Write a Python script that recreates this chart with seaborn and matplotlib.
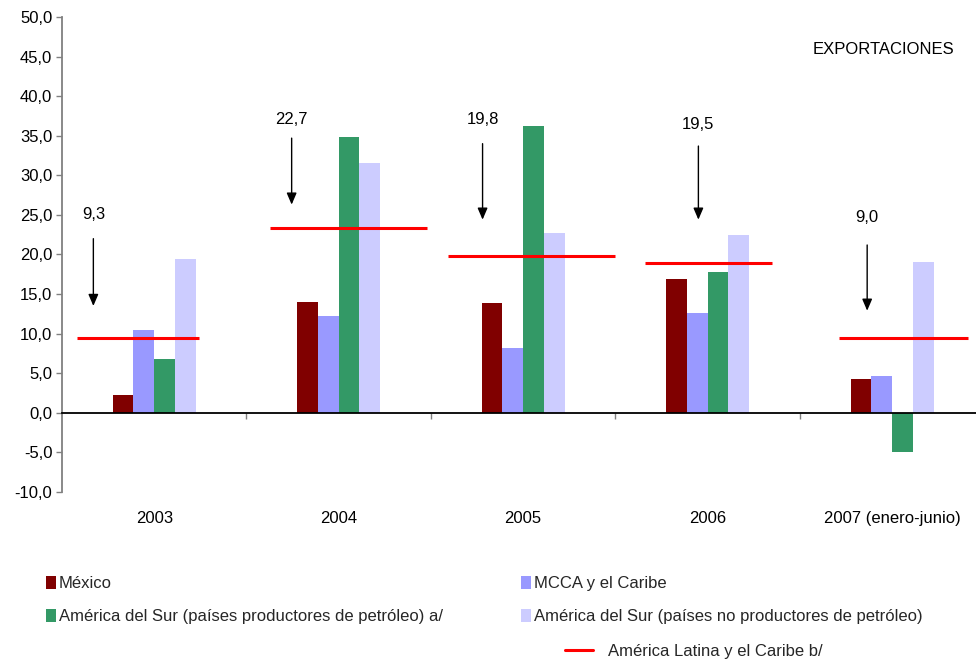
import numpy as np
import pandas as pd
import matplotlib
matplotlib.use("Agg")
import matplotlib.pyplot as plt
from matplotlib.patches import Patch
from matplotlib.lines import Line2D
from matplotlib.ticker import FuncFormatter, FixedLocator
import seaborn as sns

# ---- data ----
years = ["2003", "2004", "2005", "2006", "2007 (enero-junio)"]
series = [
    "México",
    "MCCA y el Caribe",
    "América del Sur (países productores de petróleo) a/",
    "América del Sur (países no productores de petróleo)",
]
mexico = [2.3, 14.0, 13.9, 16.9, 4.3]
mcca = [10.5, 12.2, 8.2, 12.6, 4.6]
sur_prod = [6.8, 34.9, 36.2, 17.8, -4.9]
sur_noprod = [19.4, 31.6, 22.7, 22.4, 19.1]
alc_name = "América Latina y el Caribe b/"
alc_line = [9.4, 23.4, 19.8, 18.9, 9.4]
alc_label_values = [9.3, 22.7, 19.8, 19.5, 9.0]
yticks = [-10, -5, 0, 5, 10, 15, 20, 25, 30, 35, 40, 45, 50]

colors = ["#800000", "#9999FF", "#339966", "#CCCCFF"]
red = "#FF0000"

rows = []
for name, vals in zip(series, [mexico, mcca, sur_prod, sur_noprod]):
    for y, v in zip(years, vals):
        rows.append({"year": y, "serie": name, "value": v})
df = pd.DataFrame(rows)

sns.set_style("white")
plt.rcParams["font.family"] = ["Liberation Sans", "DejaVu Sans"]
FS = 12

fig = plt.figure(figsize=(9.76, 6.59), dpi=100)
ax = fig.add_axes([62 / 976, 1 - 492 / 659, (976 - 62) / 976, 475 / 659])

sns.barplot(data=df, x="year", y="value", hue="serie", order=years,
            hue_order=series, palette=colors, saturation=1, width=0.45,
            errorbar=None, linewidth=0, legend=False, ax=ax)

# red average lines (layout spans relative to category centre)
spans = [(-0.42, 0.24), (-0.37, 0.48), (-0.41, 0.50), (-0.34, 0.35), (-0.29, 0.41)]
for i, (v, (a, b)) in enumerate(zip(alc_line, spans)):
    ax.hlines(v, i + a, i + b, color=red, lw=2.2, zorder=4)

# arrows with labels (layout)
arrow_dx = [-0.33, -0.255, -0.22, -0.05, -0.135]
arrow_rise = [(13.5, 22.0, 25.1), (26.3, 34.7, 37.1), (24.4, 34.0, 37.1),
              (24.4, 33.7, 36.4), (12.9, 21.2, 24.7)]
for i, (dx, (y_end, y_start, y_lab), lv) in enumerate(zip(arrow_dx, arrow_rise, alc_label_values)):
    x = i + dx
    ax.annotate("", xy=(x, y_end), xytext=(x, y_start),
                arrowprops=dict(arrowstyle="-|>,head_length=0.7,head_width=0.3",
                                color="black", lw=1.0, mutation_scale=10,
                                shrinkA=0, shrinkB=0))
    ax.text(x, y_lab, f"{lv:.1f}".replace(".", ","), ha="center", va="center",
            fontsize=FS, color="black")

ax.set_ylim(-10, 50)
ax.set_xlim(-0.5, 4.455)
ax.set_yticks(yticks)
ax.yaxis.set_major_formatter(FuncFormatter(lambda v, p: f"{v:.1f}".replace(".", ",")))
ax.set_xlabel("")
ax.set_ylabel("")

for s in ["top", "right"]:
    ax.spines[s].set_visible(False)
ax.spines["left"].set_color("#808080")
ax.spines["left"].set_linewidth(1.3)
ax.spines["bottom"].set_position(("data", 0))
ax.spines["bottom"].set_color("black")
ax.spines["bottom"].set_linewidth(1.3)
ax.spines["bottom"].set_zorder(5)

ax.tick_params(axis="y", direction="out", length=4, width=1, color="#808080",
               labelsize=FS, labelcolor="black", pad=3, left=True)
ax.set_xticks(range(len(years)))
ax.set_xticklabels(years)
ax.tick_params(axis="x", which="major", length=0, pad=71, labelsize=FS,
               labelcolor="black", bottom=True)
ax.xaxis.set_minor_locator(FixedLocator([0.5, 1.5, 2.5, 3.5]))
ax.tick_params(axis="x", which="minor", direction="out", length=4, width=1,
               color="#808080", bottom=True)
ax.grid(False)

fig.text(883 / 976, 1 - 49 / 659, "EXPORTACIONES", ha="center", va="center",
         fontsize=FS, color="black")

# legends
handles = [Patch(facecolor=c, edgecolor="none") for c in colors]
order = [0, 2, 1, 3]
leg1 = fig.legend([handles[k] for k in order], [series[k] for k in order],
                  ncol=2, loc="upper left", bbox_to_anchor=(46 / 976, 1 - 576 / 659),
                  frameon=False, borderpad=0, borderaxespad=0, fontsize=FS,
                  handlelength=0.6, handleheight=0.8, handletextpad=0.18,
                  labelspacing=1.06, columnspacing=4.7)
leg2 = fig.legend([Line2D([0], [0], color=red, lw=2.2)], [alc_name],
                  loc="upper left", bbox_to_anchor=(565 / 976, 1 - 644 / 659),
                  frameon=False, borderpad=0, borderaxespad=0, fontsize=FS,
                  handlelength=1.7, handletextpad=0.9)

fig.savefig("out.png", dpi=100, facecolor="white")
